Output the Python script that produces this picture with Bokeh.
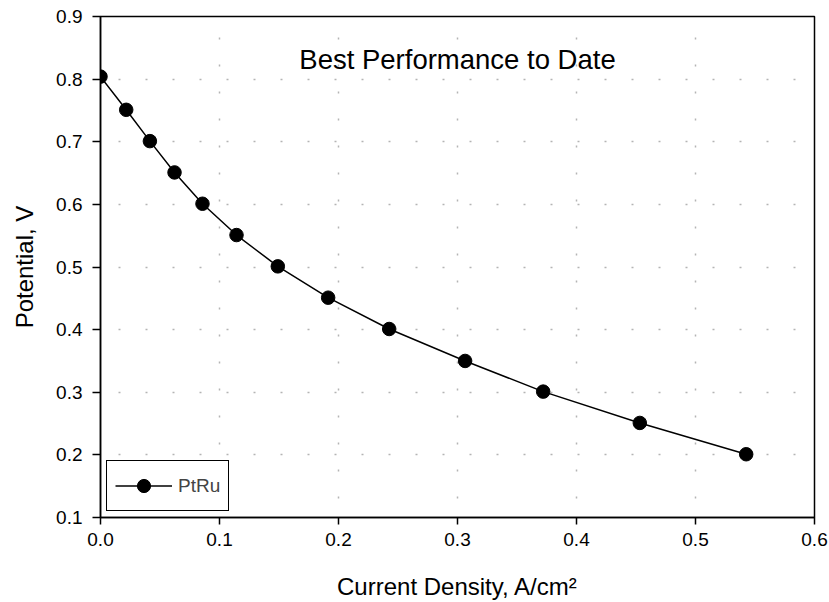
from bokeh.plotting import figure
from bokeh.models import FixedTicker, NumeralTickFormatter, Label, Legend, LegendItem
from bokeh.embed import file_html
from bokeh.resources import INLINE

# Data
current_density = [0.0, 0.0216, 0.0415, 0.0622, 0.0857, 0.1143, 0.149, 0.1913,
                   0.2426, 0.3064, 0.372, 0.4532, 0.5426]
potential = [0.804, 0.751, 0.701, 0.651, 0.601, 0.551, 0.501, 0.451,
             0.401, 0.350, 0.301, 0.251, 0.201]
series_name = "PtRu"
x_ticks = [0.0, 0.1, 0.2, 0.3, 0.4, 0.5, 0.6]
y_ticks = [0.1, 0.2, 0.3, 0.4, 0.5, 0.6, 0.7, 0.8, 0.9]
title_text = "Best Performance to Date"
x_label = "Current Density, A/cm\u00b2"
y_label = "Potential, V"

FONT = "Liberation Sans"

p = figure(width=829, height=602, x_range=(0, 0.6), y_range=(0.1, 0.9),
           output_backend="svg", toolbar_location=None,
           min_border_left=100, min_border_right=15, min_border_top=16,
           min_border_bottom=85)
p.background_fill_color = "white"
p.border_fill_color = "white"
p.outline_line_color = "black"
p.outline_line_width = 1.5

for ax, ticks in ((p.xaxis[0], x_ticks), (p.yaxis[0], y_ticks)):
    ax.ticker = FixedTicker(ticks=ticks)
    ax.formatter = NumeralTickFormatter(format="0.0")
    ax.axis_line_color = "black"
    ax.axis_line_width = 1.5
    ax.major_tick_line_color = "black"
    ax.major_tick_line_width = 1.5
    ax.major_tick_in = 0
    ax.minor_tick_line_color = None
    ax.major_label_text_font = FONT
    ax.major_label_text_font_size = "19px"
    ax.major_label_text_color = "black"
    ax.axis_label_text_font = FONT
    ax.axis_label_text_font_size = "24px"
    ax.axis_label_text_font_style = "normal"
    ax.axis_label_text_color = "black"

p.xaxis[0].major_tick_out = 7
p.yaxis[0].major_tick_out = 8
p.xaxis[0].major_label_standoff = 8
p.yaxis[0].major_label_standoff = 10
p.xaxis[0].axis_label = x_label
p.yaxis[0].axis_label = y_label
p.xaxis[0].axis_label_standoff = 24
p.yaxis[0].axis_label_standoff = 15

for g in (p.xgrid[0], p.ygrid[0]):
    g.grid_line_color = "#b4b4b4"
    g.grid_line_width = 1.5
    g.grid_line_dash = "2 25"
p.xgrid[0].grid_line_dash_offset = 8
p.ygrid[0].grid_line_dash_offset = 9

ln = p.line(current_density, potential, line_color="black", line_width=1.5)
sc = p.scatter(current_density, potential, size=13.5, fill_color="black",
               line_color="black")

legend = Legend(items=[LegendItem(label=series_name, renderers=[ln, sc])],
                location="bottom_left", margin=6, padding=8,
                glyph_width=57, glyph_height=33, label_standoff=6,
                label_width=36,
                label_text_font=FONT, label_text_font_size="19px",
                border_line_color="black", border_line_width=1.5,
                border_line_alpha=1.0,
                background_fill_color="white", background_fill_alpha=1.0)
p.add_layout(legend)

title = Label(x=0.3, y=0.832, text=title_text, text_align="center",
              text_baseline="alphabetic", text_font=FONT,
              text_font_size="27.5px", text_color="black")
p.add_layout(title)

open("out.html", "w").write(file_html(p, INLINE))
